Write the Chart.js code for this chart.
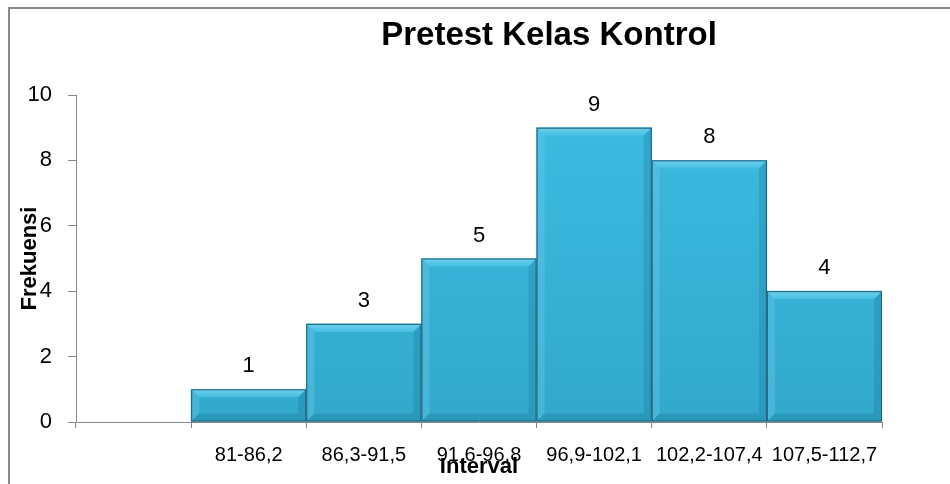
<!DOCTYPE html>
<html>
<head>
<meta charset="utf-8">
<script src="https://cdn.jsdelivr.net/npm/chart.js@4/dist/chart.umd.min.js"></script>
<style>
  html, body { margin: 0; padding: 0; background: #ffffff; }
  #wrap { position: relative; width: 950px; height: 484px; overflow: hidden; }
  #frame { position: absolute; left: 8px; top: 7px; width: 960px; height: 500px;
           border-left: 2px solid #8a8a8a; border-top: 2px solid #8a8a8a; box-sizing: border-box; }
  canvas { position: absolute; left: 0; top: 0; }
</style>
</head>
<body>
<div id="wrap">
  <div id="frame"></div>
  <canvas id="c" width="950" height="484"></canvas>
</div>
<script>
const chartTitle = 'Pretest Kelas Kontrol';
const xTitle = 'Interval';
const yTitle = 'Frekuensi';
const categories = ['', '81-86,2', '86,3-91,5', '91,6-96,8', '96,9-102,1', '102,2-107,4', '107,5-112,7'];
const frequencies = [null, 1, 3, 5, 9, 8, 4];
const yMin = 0, yMax = 10, yStep = 2;

const FONT = '"Liberation Sans", Arial, sans-serif';

const bevelPlugin = {
  id: 'bevel',
  afterDatasetsDraw(chart) {
    const ctx = chart.ctx;
    const meta = chart.getDatasetMeta(0);
    meta.data.forEach((bar, i) => {
      if (frequencies[i] == null) return;
      const p = bar.getProps(['x', 'y', 'base', 'width'], true);
      const l = p.x - p.width / 2, r = p.x + p.width / 2, t = p.y, b = p.base;
      const h = b - t;
      const bv = Math.min(8, h / 3);
      ctx.save();
      // top bevel
      let g = ctx.createLinearGradient(0, t, 0, t + bv);
      g.addColorStop(0, '#6fd0ec'); g.addColorStop(1, '#45bfe2');
      ctx.fillStyle = g;
      ctx.beginPath(); ctx.moveTo(l, t); ctx.lineTo(r, t); ctx.lineTo(r - bv, t + bv); ctx.lineTo(l + bv, t + bv); ctx.closePath(); ctx.fill();
      // left bevel
      ctx.fillStyle = 'rgba(120,210,238,0.30)';
      ctx.beginPath(); ctx.moveTo(l, t); ctx.lineTo(l + bv, t + bv); ctx.lineTo(l + bv, b - bv); ctx.lineTo(l, b); ctx.closePath(); ctx.fill();
      // right bevel
      ctx.fillStyle = 'rgba(20,100,130,0.22)';
      ctx.beginPath(); ctx.moveTo(r, t); ctx.lineTo(r - bv, t + bv); ctx.lineTo(r - bv, b - bv); ctx.lineTo(r, b); ctx.closePath(); ctx.fill();
      // bottom bevel
      ctx.fillStyle = 'rgba(15,85,115,0.20)';
      ctx.beginPath(); ctx.moveTo(l, b); ctx.lineTo(l + bv, b - bv); ctx.lineTo(r - bv, b - bv); ctx.lineTo(r, b); ctx.closePath(); ctx.fill();
      // outline
      ctx.strokeStyle = '#22607a'; ctx.lineWidth = 1;
      ctx.strokeRect(l + 0.5, t + 0.5, r - l - 1, b - t - 1);
      // value label
      ctx.fillStyle = '#000';
      ctx.font = '22px ' + FONT;
      ctx.textAlign = 'center';
      ctx.textBaseline = 'alphabetic';
      ctx.fillText(String(frequencies[i]), p.x, t - 17);
      ctx.restore();
    });
  }
};

const textPlugin = {
  id: 'texts',
  afterDraw(chart) {
    const ctx = chart.ctx;
    const ca = chart.chartArea;
    ctx.save();
    ctx.fillStyle = '#000';
    ctx.textAlign = 'center';
    ctx.textBaseline = 'alphabetic';
    ctx.font = 'bold 33px ' + FONT;
    ctx.fillText(chartTitle, 549, 45);
    ctx.font = 'bold 22px ' + FONT;
    ctx.textBaseline = 'middle';
    ctx.fillText(xTitle, (ca.left + ca.right) / 2, 467);
    ctx.translate(30, (ca.top + ca.bottom) / 2);
    ctx.rotate(-Math.PI / 2);
    ctx.fillText(yTitle, 0, 0);
    ctx.restore();
  }
};

new Chart(document.getElementById('c'), {
  type: 'bar',
  data: {
    labels: categories,
    datasets: [{
      data: frequencies,
      backgroundColor(ctx) {
        const area = ctx.chart.chartArea;
        if (!area) return '#38b4d8';
        const g = ctx.chart.ctx.createLinearGradient(0, area.top, 0, area.bottom);
        g.addColorStop(0, '#3cbce1');
        g.addColorStop(1, '#32a9cc');
        return g;
      },
      borderWidth: 0,
      barPercentage: 1.0,
      categoryPercentage: 1.0
    }]
  },
  options: {
    responsive: false,
    animation: false,
    devicePixelRatio: 1,
    layout: { padding: { left: 0, right: 68, top: 95, bottom: 0 } },
    plugins: { legend: { display: false }, title: { display: false }, tooltip: { enabled: false } },
    scales: {
      x: {
        grid: { display: true, drawOnChartArea: false, offset: true, tickLength: 6, color: '#868686', tickColor: '#868686' },
        border: { display: true, color: '#868686', width: 1 },
        ticks: { color: '#000', font: { family: FONT, size: 20 }, padding: 15, maxRotation: 0, autoSkip: false },
        afterFit(scale) { scale.height = 62; }
      },
      y: {
        min: yMin, max: yMax,
        grid: { display: true, drawOnChartArea: false, tickLength: 8, color: '#868686', tickColor: '#868686' },
        border: { display: true, color: '#868686', width: 1 },
        ticks: { stepSize: yStep, color: '#000', font: { family: FONT, size: 22 }, padding: 16 },
        afterFit(scale) { scale.width = 76; }
      }
    }
  },
  plugins: [bevelPlugin, textPlugin]
});
</script>
</body>
</html>
